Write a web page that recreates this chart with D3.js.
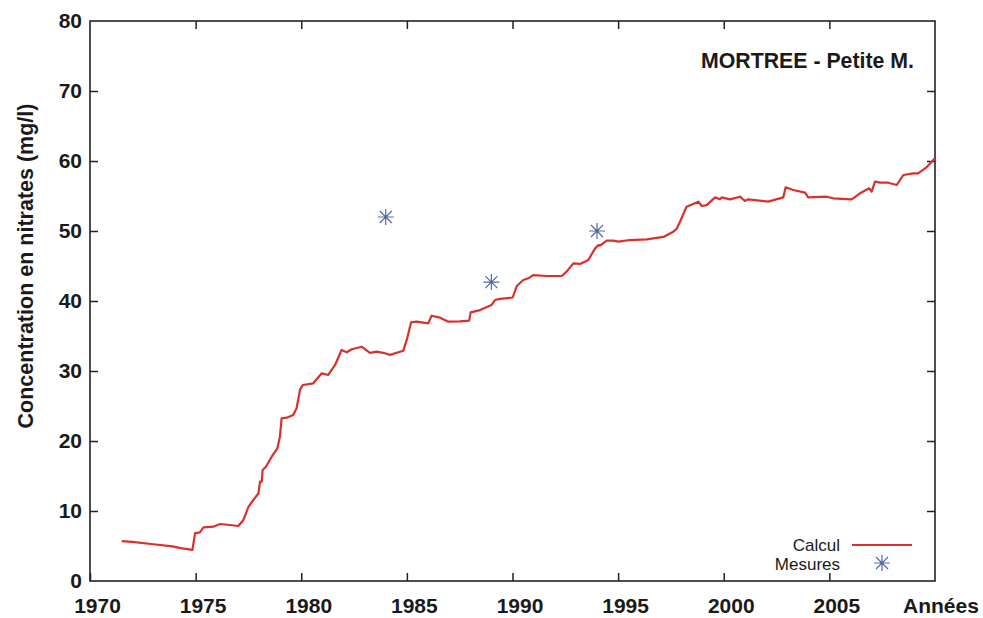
<!DOCTYPE html>
<html><head><meta charset="utf-8">
<script src="https://cdn.jsdelivr.net/npm/d3@7"></script>
<style>
html,body{margin:0;padding:0;background:#fff;}
svg{display:block;font-family:"Liberation Sans",Arial,sans-serif;}
</style></head>
<body>
<svg id="chart" width="983" height="618"></svg>
<script>
const calcYears = [1971.5,1972.0,1973.0,1973.9,1974.3,1974.85,1974.97,1975.2,1975.37,1975.84,1976.15,1976.63,1977.02,1977.26,1977.5,1977.73,1977.97,1978.05,1978.13,1978.17,1978.33,1978.6,1978.87,1978.99,1979.07,1979.31,1979.62,1979.78,1979.94,1980.07,1980.57,1980.97,1981.28,1981.6,1981.91,1982.15,1982.39,1982.86,1983.25,1983.57,1983.88,1984.2,1984.83,1984.99,1985.2,1985.46,1986.01,1986.17,1986.57,1986.96,1987.51,1987.95,1988.02,1988.46,1989.01,1989.17,1989.41,1990.01,1990.2,1990.51,1990.75,1990.98,1991.62,1992.33,1992.56,1992.88,1993.2,1993.59,1993.91,1994.07,1994.14,1994.46,1994.77,1995.01,1995.56,1996.35,1997.14,1997.61,1997.77,1997.93,1998.24,1998.8,1998.96,1999.19,1999.59,1999.82,1999.9,2000.3,2000.77,2001.0,2001.16,2002.1,2002.82,2002.93,2003.29,2003.85,2004.0,2004.87,2005.19,2006.06,2006.45,2006.89,2007.0,2007.16,2007.4,2007.79,2008.19,2008.5,2008.97,2009.2,2009.6,2010.0];
const calcValues = [5.7,5.6,5.25,4.95,4.7,4.45,6.8,6.95,7.67,7.76,8.14,8.0,7.86,8.71,10.6,11.57,12.5,14.2,14.2,15.86,16.33,17.76,18.95,20.6,23.24,23.33,23.7,24.67,27.3,28.0,28.24,29.67,29.43,30.86,33.0,32.67,33.1,33.47,32.6,32.76,32.6,32.3,32.9,34.4,36.95,37.05,36.8,37.9,37.62,37.05,37.1,37.2,38.38,38.7,39.43,40.14,40.3,40.5,42.14,43.0,43.24,43.7,43.57,43.57,44.19,45.38,45.29,45.86,47.52,48.0,47.9,48.62,48.62,48.48,48.71,48.8,49.15,49.9,50.3,51.33,53.48,54.19,53.57,53.7,54.81,54.52,54.81,54.52,54.9,54.29,54.52,54.19,54.81,56.24,55.86,55.48,54.81,54.9,54.67,54.52,55.38,56.1,55.62,57.05,56.9,56.9,56.57,58.0,58.24,58.24,59.1,60.4];
const mesYears = [1984.0, 1989.0, 1994.0];
const mesValues = [52.0, 42.7, 50.0];
const xTickValues = [1970,1975,1980,1985,1990,1995,2000,2005];
const yTickValues = [0,10,20,30,40,50,60,70,80];
const titleText = "MORTREE - Petite M.";
const yLabel = "Concentration en nitrates (mg/l)";
const xLabel = "Années";
const legendLabels = ["Calcul","Mesures"];

const svg = d3.select("#chart");
const L = 90, R = 935, T = 21, B = 581;
const x = d3.scaleLinear().domain([1970,2010]).range([L,R]);
const y = d3.scaleLinear().domain([0,80]).range([B,T]);
const axisColor = "#222";
const red = "#d9302c";
const blue = "#5469a6";

// frame
svg.append("rect").attr("x",L).attr("y",T).attr("width",R-L).attr("height",B-T)
  .attr("fill","none").attr("stroke",axisColor).attr("stroke-width",1.6);

function styleAxis(g){
  g.select(".domain").remove();
  g.selectAll(".tick line").attr("stroke",axisColor).attr("stroke-width",1.5);
  g.selectAll("text").attr("fill","#1a1a1a").style("font-size","21px").style("font-weight","bold")
   .style("font-family","'Liberation Sans',Arial,sans-serif");
}
const gx = svg.append("g").attr("transform",`translate(0,${B})`)
  .call(d3.axisBottom(x).tickValues(xTickValues).tickSize(-8).tickPadding(17).tickFormat(d3.format("d")));
styleAxis(gx);
gx.selectAll("text").attr("dx",7);
const gxt = svg.append("g").attr("transform",`translate(0,${T})`)
  .call(d3.axisTop(x).tickValues(xTickValues.slice(1)).tickSize(-8).tickFormat(""));
styleAxis(gxt);
const gy = svg.append("g").attr("transform",`translate(${L},0)`)
  .call(d3.axisLeft(y).tickValues(yTickValues).tickSize(-8).tickPadding(8));
styleAxis(gy);
gy.selectAll(".tick").filter(d=>d===0||d===80).select("line").remove();
const gyr = svg.append("g").attr("transform",`translate(${R},0)`)
  .call(d3.axisRight(y).tickValues(yTickValues.slice(1,-1)).tickSize(-8).tickFormat(""));
styleAxis(gyr);

// line
const line = d3.line().x((d,i)=>x(calcYears[i])).y((d,i)=>y(calcValues[i]));
svg.append("path").datum(calcValues).attr("d",line).attr("fill","none")
  .attr("stroke",red).attr("stroke-width",2.2).attr("stroke-linejoin","round");

// stars
function star(g,cx,cy,r){
  const a = r*0.75;
  const p = `M${cx-r},${cy}L${cx+r},${cy}M${cx},${cy-r}L${cx},${cy+r}M${cx-a},${cy-a}L${cx+a},${cy+a}M${cx-a},${cy+a}L${cx+a},${cy-a}`;
  g.append("path").attr("d",p).attr("stroke",blue).attr("stroke-width",1.2).attr("fill","none");
  g.append("circle").attr("cx",cx).attr("cy",cy).attr("r",1.6).attr("fill",blue);
}
const gs = svg.append("g");
mesYears.forEach((yr,i)=>star(gs,x(yr),y(mesValues[i]),8));

// title
svg.append("text").attr("x",701).attr("y",68).text(titleText)
  .style("font-size","21.3px").style("font-weight","bold").attr("fill","#1a1a1a");

// y label
svg.append("text").attr("transform","translate(33,266) rotate(-90)").attr("text-anchor","middle")
  .text(yLabel).style("font-size","21.5px").style("font-weight","bold").attr("fill","#1a1a1a");

// x label
svg.append("text").attr("x",903).attr("y",613).text(xLabel)
  .style("font-size","21px").style("font-weight","bold").attr("fill","#1a1a1a");

// legend
svg.append("text").attr("x",840).attr("y",550.5).attr("text-anchor","end").text(legendLabels[0])
  .style("font-size","17px").attr("fill","#1a1a1a");
svg.append("line").attr("x1",852).attr("x2",912).attr("y1",545).attr("y2",545)
  .attr("stroke",red).attr("stroke-width",2.2);
svg.append("text").attr("x",840).attr("y",570).attr("text-anchor","end").text(legendLabels[1])
  .style("font-size","17px").attr("fill","#1a1a1a");
star(svg,882,563,8);
</script>
</body></html>
